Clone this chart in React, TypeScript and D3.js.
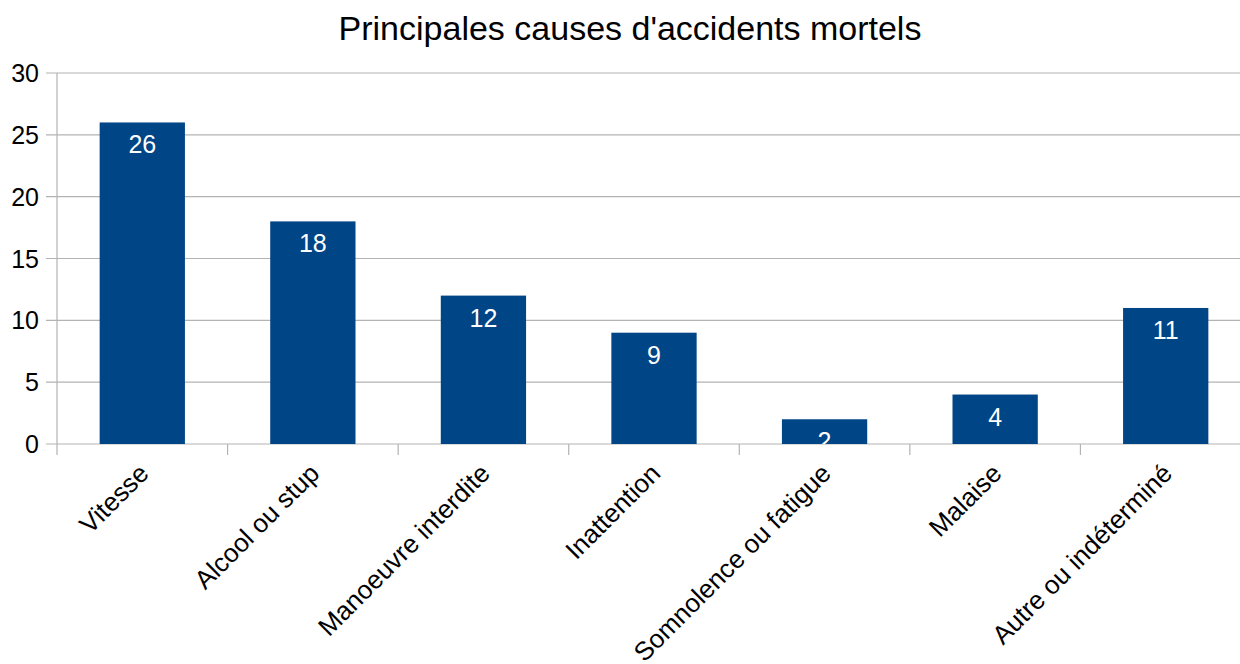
import React from "react";
import * as d3 from "d3";

const categories = [
  "Vitesse",
  "Alcool ou stup",
  "Manoeuvre interdite",
  "Inattention",
  "Somnolence ou fatigue",
  "Malaise",
  "Autre ou indéterminé",
];
const values = [26, 18, 12, 9, 2, 4, 11];
const yTicks = [0, 5, 10, 15, 20, 25, 30];
const title = "Principales causes d'accidents mortels";

const W = 1240;
const H = 664;
const left = 57;
const right = 1251;
const top = 73;
const bottom = 444;
const FONT = "'Liberation Sans', Arial, sans-serif";

export default function App() {
  const x = d3.scaleBand<string>().domain(categories).range([left, right]).paddingInner(0.5).paddingOuter(0.25);
  const y = d3.scaleLinear().domain([0, 30]).range([bottom, top]);
  const step = x.step();
  return (
    <svg width={W} height={H} style={{ position: "absolute", left: 0, top: 0, background: "#fff" }} fontFamily={FONT}>
      <defs>
        <clipPath id="plotclip">
          <rect x={left} y={0} width={W - left} height={bottom} />
        </clipPath>
      </defs>
      <text x={630} y={40} textAnchor="middle" fontSize={34} fill="#000">{title}</text>
      {yTicks.map((t) => (
        <g key={t}>
          <line x1={left - 11} x2={W} y1={y(t)} y2={y(t)} stroke="#b3b3b3" strokeWidth={1.2} />
          <text x={39} y={y(t) + 9} textAnchor="end" fontSize={25} fill="#000">{t}</text>
        </g>
      ))}
      <line x1={left} x2={left} y1={top} y2={bottom + 11} stroke="#b3b3b3" strokeWidth={1.2} />
      {categories.map((c, i) => (
        <line key={"tk" + i} x1={left + step * (i + 1)} x2={left + step * (i + 1)} y1={bottom} y2={bottom + 11} stroke="#b3b3b3" strokeWidth={1.2} />
      ))}
      {categories.map((c, i) => (
        <rect key={"b" + i} x={x(c)} y={y(values[i])} width={x.bandwidth()} height={bottom - y(values[i])} fill="#004586" />
      ))}
      <g clipPath="url(#plotclip)">
        {categories.map((c, i) => (
          <text key={"v" + i} x={(x(c) as number) + x.bandwidth() / 2} y={y(values[i]) + 31} textAnchor="middle" fontSize={25} fill="#fff">{values[i]}</text>
        ))}
      </g>
      {categories.map((c, i) => {
        const cx = (x(c) as number) + x.bandwidth() / 2;
        return (
          <text key={"l" + i} transform={`translate(${cx + 8},${bottom + 31}) rotate(-45)`} textAnchor="end" fontSize={26} fill="#000">{c}</text>
        );
      })}
    </svg>
  );
}
